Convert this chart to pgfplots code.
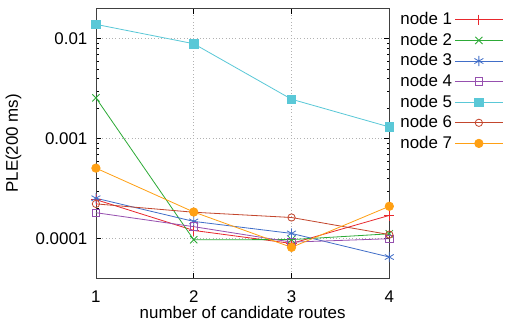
\documentclass[border=0pt]{standalone}
\usepackage{pgfplots}
\pgfplotsset{compat=1.18}
\usepackage{fontspec}
\setmainfont{Liberation Sans}
\definecolor{c1}{RGB}{232,40,45}
\definecolor{c2}{RGB}{45,170,55}
\definecolor{c3}{RGB}{65,110,200}
\definecolor{c4}{RGB}{150,80,175}
\definecolor{c5}{RGB}{90,200,215}
\definecolor{c6}{RGB}{195,70,45}
\definecolor{c7}{RGB}{255,160,20}
\begin{document}
\begin{tikzpicture}[x=1pt,y=1pt]
\fontsize{12.5}{14}\selectfont
\begin{axis}[
  scale only axis,
  width=217pt, height=200pt,
  ymode=log,
  xmin=1, xmax=4, ymin=4e-5, ymax=0.0202,
  xtick={1,2,3,4}, xticklabels={1,2,3,4},
  ytick={1e-4,1e-3,1e-2}, yticklabels={0.0001,0.001,0.01},
  tick align=inside,
  tick style={black, line width=0.4pt},
  major tick length=4pt, minor tick length=2pt,
  axis line style={black!75, line width=0.6pt},
  grid=major,
  major grid style={gray!60, dotted, line width=0.5pt},
  xlabel={number of candidate routes},
  ylabel={PLE(200 ms)},
  xlabel style={yshift=6pt},
  ylabel style={yshift=2pt},
  ticklabel style={font=\fontsize{12.5}{14}\selectfont},
  label style={font=\fontsize{12.5}{14}\selectfont},
  xticklabel style={yshift=-5pt},
  yticklabel style={xshift=-2pt},
  every axis plot/.append style={line width=0.6pt},
  legend plot pos=right,
  legend style={draw=none, fill=none, at={(1,1)}, anchor=north west,
    xshift=3pt, yshift=1pt,
    font=\fontsize{12.5}{14}\selectfont,
    row sep=0.3pt, cells={anchor=west}},
  legend cell align=left,
  legend image code/.code={\draw[mark repeat=2,mark phase=2] plot coordinates {(0pt,0pt) (17.5pt,0pt) (35pt,0pt)};},
]
\addplot[c1, mark=+, mark size=3.8pt] coordinates {(1,2.46e-4) (2,1.21e-4) (3,8.97e-5) (4,1.71e-4)};
\addlegendentry{node 1}
\addplot[c2, mark=x, mark size=3.8pt] coordinates {(1,2.56e-3) (2,9.77e-5) (3,9.8e-5) (4,1.12e-4)};
\addlegendentry{node 2}
\addplot[c3, mark=asterisk, mark size=3.8pt] coordinates {(1,2.54e-4) (2,1.49e-4) (3,1.13e-4) (4,6.56e-5)};
\addlegendentry{node 3}
\addplot[c4, mark=square, mark size=2.8pt] coordinates {(1,1.82e-4) (2,1.32e-4) (3,9.25e-5) (4,1.0e-4)};
\addlegendentry{node 4}
\addplot[c5, mark=square*, mark size=3.1pt] coordinates {(1,0.0139) (2,0.0089) (3,0.00248) (4,0.00131)};
\addlegendentry{node 5}
\addplot[c6, mark=o, mark size=2.7pt] coordinates {(1,2.23e-4) (2,1.84e-4) (3,1.63e-4) (4,1.1e-4)};
\addlegendentry{node 6}
\addplot[c7, mark=*, mark size=3.1pt] coordinates {(1,5.08e-4) (2,1.85e-4) (3,8.2e-5) (4,2.11e-4)};
\addlegendentry{node 7}
\end{axis}
\path (current axis.north) ++(0,6pt);
\end{tikzpicture}
\end{document}
